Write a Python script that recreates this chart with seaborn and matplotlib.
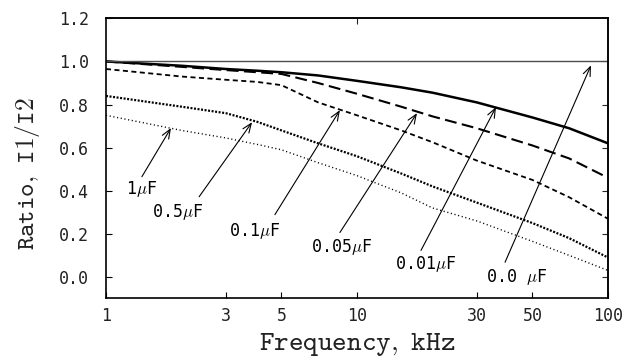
import numpy as np
import pandas as pd
import matplotlib
matplotlib.use("Agg")
import matplotlib.pyplot as plt
import seaborn as sns

# ---- data ----
freq = [1, 2, 3, 4, 5, 7, 10, 15, 20, 30, 50, 70, 100]
r_001 = [1.00, 0.98, 0.965, 0.957, 0.95, 0.935, 0.91, 0.88, 0.855, 0.81, 0.74, 0.69, 0.62]
r_005 = [1.00, 0.975, 0.96, 0.95, 0.942, 0.90, 0.85, 0.79, 0.745, 0.69, 0.61, 0.55, 0.46]
r_01 = [0.965, 0.93, 0.915, 0.905, 0.89, 0.81, 0.75, 0.68, 0.625, 0.54, 0.45, 0.37, 0.27]
r_05 = [0.84, 0.79, 0.76, 0.72, 0.68, 0.62, 0.56, 0.48, 0.42, 0.345, 0.25, 0.18, 0.09]
r_1 = [0.75, 0.68, 0.645, 0.615, 0.59, 0.53, 0.47, 0.39, 0.32, 0.26, 0.165, 0.10, 0.03]
r_00 = 1.0  # 0.0 uF reference line

labels = [r"1$\mu$F", r"0.5$\mu$F", r"0.1$\mu$F", r"0.05$\mu$F", r"0.01$\mu$F", r"0.0 $\mu$F"]
tip_f = [1.815, 3.82, 8.55, 17.34, 35.8, 85.6]
tip_v = [0.691, 0.718, 0.774, 0.760, 0.788, 0.982]
tail_f = [1.39, 2.35, 4.71, 8.55, 17.99, 38.9]
tail_v = [0.465, 0.372, 0.289, 0.206, 0.123, 0.068]
lab_f = [1.379, 1.927, 3.89, 8.68, 18.83, 43.2]
lab_v = [0.408, 0.303, 0.211, 0.137, 0.058, -0.001]

xticks = [1, 3, 5, 10, 30, 50, 100]
yticks = [0.0, 0.2, 0.4, 0.6, 0.8, 1.0, 1.2]

sns.set_theme(style="ticks")
plt.rcParams["mathtext.fontset"] = "cm"
plt.rcParams["font.family"] = ["DejaVu Sans Mono", "DejaVu Sans"]

fig = plt.figure(figsize=(6.37, 3.6), dpi=100)
ax = fig.add_axes([0.1664, 0.171, 0.788, 0.778])

series = {
    "0.01": (r_001, dict(lw=1.8, linestyle="-")),
    "0.05": (r_005, dict(lw=1.5, linestyle=(0, (5.7, 2.6)))),
    "0.1": (r_01, dict(lw=1.3, linestyle=(0, (2.8, 1.9)))),
    "0.5": (r_05, dict(lw=1.6, linestyle=(0, (0.9, 0.7)))),
    "1": (r_1, dict(lw=1.0, linestyle=(0, (0.8, 1.9)))),
}
for name, (vals, style) in series.items():
    df = pd.DataFrame({"f": freq, "r": vals})
    sns.lineplot(data=df, x="f", y="r", ax=ax, color="black", **style)

ax.axhline(r_00, color="0.3", lw=1.0)

for lab, tf, tv, af, av, lf, lv in zip(labels, tip_f, tip_v, tail_f, tail_v, lab_f, lab_v):
    ax.annotate("", xy=(tf, tv), xytext=(af, av),
                arrowprops=dict(arrowstyle="->,head_length=0.55,head_width=0.22",
                                lw=0.8, color="black", shrinkA=0, shrinkB=0))
    ax.text(lf, lv, lab, ha="center", va="center", fontsize=12, color="black")

ax.set_xscale("log")
ax.set_xlim(1, 100)
ax.set_ylim(-0.1, 1.2)
ax.set_xticks(xticks)
ax.set_xticklabels([str(t) for t in xticks])
ax.xaxis.set_minor_locator(matplotlib.ticker.NullLocator())
ax.set_yticks(yticks)
ax.set_yticklabels([f"{t:.1f}" for t in yticks])
ax.tick_params(axis="both", direction="in", length=4, width=0.8, labelsize=12,
               colors="black", labelcolor="#222222")
ax.tick_params(axis="x", pad=6)
ax.tick_params(axis="y", pad=12)

# right / top ticks
axr = ax.secondary_yaxis("right")
axr.set_yticks(yticks[:-1])
axr.tick_params(direction="in", length=4, width=0.8, labelright=False)
axt = ax.secondary_xaxis("top")
axt.set_xticks([10])
axt.xaxis.set_minor_locator(matplotlib.ticker.NullLocator())
axt.tick_params(direction="in", length=4, width=0.8, labeltop=False)

for s in ax.spines.values():
    s.set_visible(True)
    s.set_linewidth(1.2)
    s.set_color("black")
for s in list(axr.spines.values()) + list(axt.spines.values()):
    s.set_linewidth(1.2)

ax.set_xlabel(r"$\mathtt{Frequency,\ kHz}$", fontsize=20, color="#222222")
ax.xaxis.set_label_coords(0.5, -0.112)
ax.set_ylabel(r"$\mathtt{Ratio,\ I1/I2}$", fontsize=18.5, color="#222222")
ax.yaxis.set_label_coords(-0.128, 0.445)

fig.savefig("out.png", dpi=100)
